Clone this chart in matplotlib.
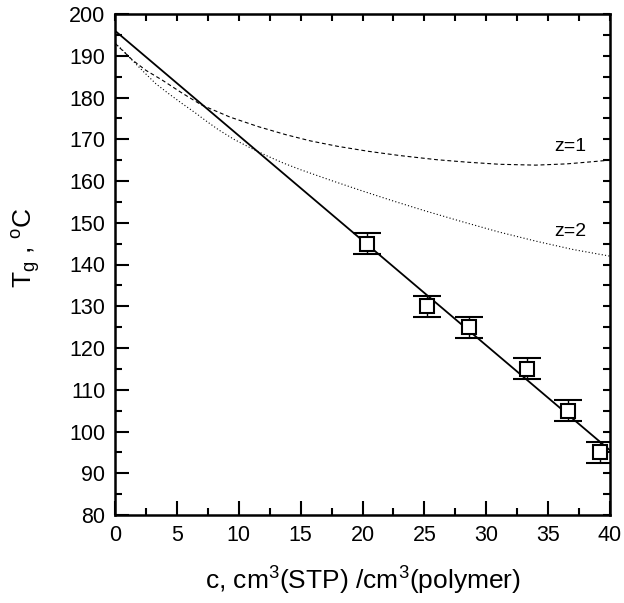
import numpy as np
import matplotlib.pyplot as plt
from matplotlib.ticker import MultipleLocator

plt.rcParams['font.family'] = ['Liberation Sans', 'DejaVu Sans']
plt.rcParams['mathtext.fontset'] = 'custom'
plt.rcParams['mathtext.rm'] = 'Liberation Sans'
plt.rcParams['mathtext.it'] = 'Liberation Sans'

# measured points
c_data = [20.4, 25.2, 28.6, 33.3, 36.6, 39.2]
tg_data = [145, 130, 125, 115, 105, 95]
tg_err = [2.5, 2.5, 2.5, 2.5, 2.5, 2.5]

# linear fit (end points)
c_fit = [0, 40]
tg_fit = [196, 95.5]

# model curves
c_z1 = [0, 0.7, 1.4, 2.5, 3.8, 5.4, 7.0, 9.3, 11.6, 13.8, 15.8, 18, 20.5, 23, 26,
        28.5, 31.1, 34, 36.5, 38.5, 40]
tg_z1 = [193, 191, 189, 186.5, 184.2, 181.1, 178.2, 175.3, 173.0, 171.1, 169.6,
         168.3, 167.1, 166.1, 165.1, 164.5, 164.0, 163.8, 164.1, 164.6, 165.0]
c_z2 = [0, 0.6, 1.2, 2.4, 3.3, 4.3, 5.4, 6.5, 7.4, 8.4, 9.6, 10.9, 12.3, 13.6, 15,
        17.5, 20, 22.5, 25, 28, 31, 34, 37, 40]
tg_z2 = [193, 191.4, 189.5, 185.9, 183.3, 181.0, 178.6, 176.3, 174.3, 172.2, 170.0,
         168.0, 166.0, 164.3, 162.7, 160.1, 157.6, 155.2, 152.9, 150.3, 147.8, 145.6,
         143.6, 142.0]

fig = plt.figure(figsize=(6.24, 6.03), dpi=100)
ax = fig.add_axes([115 / 624, 88 / 603, 495 / 624, 501 / 603])

ax.plot(c_fit, tg_fit, color='black', lw=1.3)
ax.plot(c_z1, tg_z1, color='black', lw=0.8, ls=(0, (3.5, 2.5)))
ax.plot(c_z2, tg_z2, color='black', lw=0.8, ls=(0, (1, 2)))
ax.errorbar(c_data, tg_data, yerr=tg_err, fmt='s', mfc='white', mec='black',
            mew=1.5, ms=10.5, ecolor='black', elinewidth=1, capsize=10, capthick=1,
            zorder=5)

ax.text(36.8, 168.2, 'z=1', fontsize=14, ha='center', va='center')
ax.text(36.8, 147.9, 'z=2', fontsize=14, ha='center', va='center')

ax.set_xlim(0, 40)
ax.set_ylim(80, 200)
ax.xaxis.set_major_locator(MultipleLocator(5))
ax.xaxis.set_minor_locator(MultipleLocator(2.5))
ax.yaxis.set_major_locator(MultipleLocator(10))
ax.yaxis.set_minor_locator(MultipleLocator(5))
ax.tick_params(which='major', direction='in', length=10, width=1.5,
               labelsize=15.5, pad=7)
ax.tick_params(which='minor', direction='in', length=5, width=1.5)
for s in ax.spines.values():
    s.set_linewidth(1.8)

top = ax.secondary_xaxis('top')
top.set_xticks(np.arange(0, 40.1, 2.5))
top.tick_params(direction='in', length=5, width=1.5, labeltop=False)
right = ax.secondary_yaxis('right')
right.set_yticks(np.arange(80, 200.1, 5))
right.tick_params(direction='in', length=5, width=1.5, labelright=False)

ax.set_xlabel('c, cm$^3$(STP) /cm$^3$(polymer)', fontsize=19, labelpad=14)
ax.set_ylabel('T$_g$ , $^o$C', fontsize=19)
ax.yaxis.set_label_coords(-0.146, 0.533)

fig.savefig('out.png', dpi=100)
